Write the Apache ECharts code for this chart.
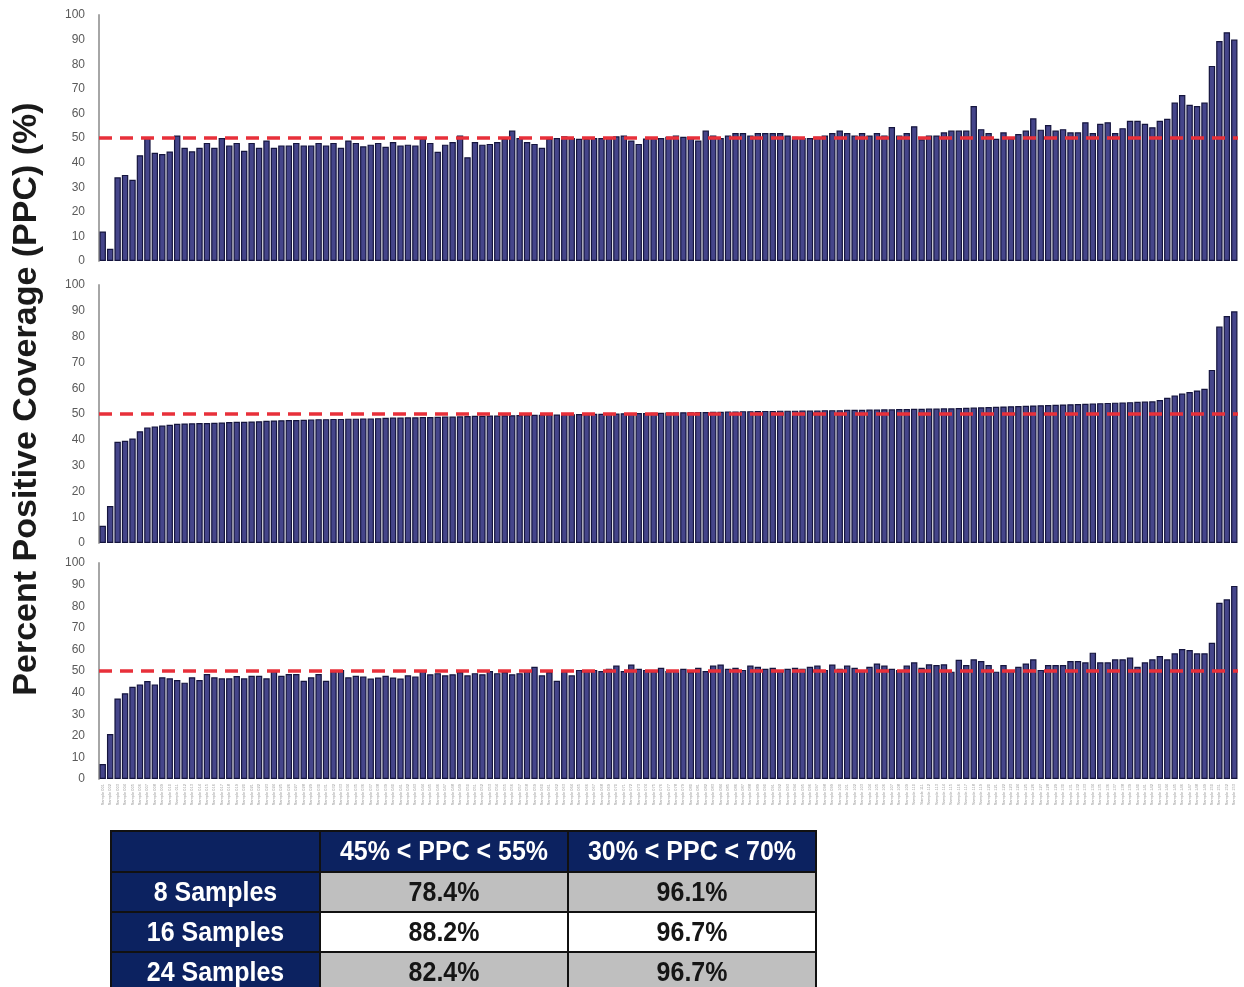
<!DOCTYPE html>
<html>
<head>
<meta charset="utf-8">
<title>Percent Positive Coverage</title>
<script src="https://cdn.jsdelivr.net/npm/echarts@6/dist/echarts.min.js"></script>
<style>
  html, body { margin: 0; padding: 0; background: #ffffff; }
  #chart { width: 1244px; height: 987px; }
</style>
</head>
<body>
<div id="chart"></div>
<script>
// Percent positive coverage per sample, pooled from 8, 16 and 24 samples
const ppc8 = [
  12, 5, 34, 35, 33, 43, 50, 44, 43.5, 44.5,
  51, 46, 44.6, 46, 48, 46, 50, 47, 48, 44.8,
  48, 46, 49, 46, 47, 47, 48, 47, 47, 48,
  47, 48, 46, 49, 48, 46.6, 47.3, 48, 46.4, 48.4,
  47, 47.3, 47, 49.7, 48, 44.4, 47.3, 48.4, 51, 42.2,
  48.4, 47.3, 47.6, 48.4, 49.7, 53, 50, 48.4, 47.6, 46,
  49.7, 50, 50.7, 50, 49.7, 49.7, 50, 50, 50, 50.7,
  51, 49, 47.6, 49.8, 50, 50, 50.5, 51, 50.5, 50,
  49, 53, 51, 50, 51, 52, 52, 51, 52, 52,
  52, 52, 51, 50.5, 50, 50, 50.5, 51, 52, 53,
  52, 51, 52, 51, 52, 51, 54.5, 51, 52, 54.8,
  49.5, 51, 51, 52.3, 53, 53, 53, 63, 53.6, 52,
  49.7, 52.3, 49.7, 51.6, 53, 58, 53.4, 55.3, 53, 53.6,
  52.3, 52.3, 56.4, 52, 55.8, 56.4, 52, 54, 57, 57,
  55.8, 54.4, 57, 57.8, 64.4, 67.5, 63.5, 63, 64.4, 79.3,
  89.4, 93, 90
];

const ppc16 = [
  6.7, 14.3, 39.2, 39.6, 40.5, 43.3, 44.8, 45.2, 45.5, 45.8,
  46.2, 46.3, 46.4, 46.5, 46.5, 46.6, 46.7, 46.9, 47.0, 47.0,
  47.1, 47.2, 47.4, 47.5, 47.6, 47.7, 47.7, 47.8, 47.9, 48.0,
  48.0, 48.1, 48.1, 48.2, 48.2, 48.3, 48.3, 48.4, 48.5, 48.6,
  48.6, 48.7, 48.7, 48.8, 48.8, 48.9, 49.0, 49.0, 49.1, 49.2,
  49.3, 49.3, 49.4, 49.4, 49.5, 49.5, 49.6, 49.6, 49.7, 49.7,
  49.8, 49.8, 49.9, 49.9, 50.0, 50.0, 50.1, 50.1, 50.2, 50.2,
  50.3, 50.3, 50.4, 50.4, 50.5, 50.5, 50.6, 50.6, 50.7, 50.7,
  50.8, 50.8, 50.9, 50.9, 51.0, 51.0, 51.1, 51.1, 51.2, 51.2,
  51.2, 51.3, 51.3, 51.3, 51.4, 51.4, 51.4, 51.5, 51.5, 51.5,
  51.6, 51.6, 51.6, 51.7, 51.7, 51.8, 51.8, 51.9, 51.9, 52.0,
  52.0, 52.1, 52.1, 52.2, 52.2, 52.3, 52.4, 52.5, 52.6, 52.7,
  52.8, 52.9, 53.0, 53.1, 53.2, 53.3, 53.4, 53.5, 53.6, 53.7,
  53.8, 53.9, 54.0, 54.1, 54.2, 54.3, 54.4, 54.5, 54.6, 54.7,
  54.8, 54.9, 55.4, 56.3, 57.2, 57.9, 58.5, 59.1, 59.8, 67.1,
  83.9, 88.0, 89.8
];

const ppc24 = [
  6.9, 20.8, 37.3, 39.7, 42.7, 43.8, 45.4, 43.8, 47.1, 46.6,
  45.8, 44.6, 47.1, 45.8, 48.6, 47.1, 46.6, 46.6, 47.7, 46.6,
  47.8, 47.8, 46.6, 50, 47.8, 48.6, 48.6, 45.5, 47.1, 48.6,
  45.5, 50, 50.5, 47.1, 47.8, 47.5, 46.5, 47.0, 47.8, 47.0,
  46.5, 48.0, 47.5, 50.5, 48.5, 49.0, 48.0, 48.5, 49.5, 48.0,
  49.0, 48.5, 50.0, 49.0, 49.5, 48.5, 49.0, 50.0, 52.0, 48.0,
  49.5, 45.5, 50.0, 48.0, 50.5, 50.0, 50.5, 50.0, 51.0, 52.5,
  50.0, 53.0, 51.0, 50.5, 50.0, 51.5, 50.0, 50.5, 51.0, 49.5,
  51.5, 50.0, 52.5, 53.0, 51.0, 51.5, 50.5, 52.5, 52.0, 51.0,
  51.5, 50.0, 51.0, 51.5, 51.0, 52.0, 52.5, 50.5, 53.0, 51.0,
  52.5, 51.5, 50.5, 52.0, 53.5, 52.5, 51.0, 50.5, 52.5, 54.0,
  51.5, 53.1, 52.8, 53.1, 49.7, 55.2, 52.8, 55.4, 54.6, 52.8,
  49.7, 52.8, 50.5, 52, 53.5, 55.4, 50.5, 52.8, 52.8, 52.8,
  54.6, 54.6, 54, 58.5, 54, 54, 55.4, 55.4, 56.2, 52,
  54, 55.4, 56.9, 55.4, 58.2, 60.2, 59.7, 58.2, 58.2, 63.1,
  81.6, 83.2, 89.4
];

// Sample identifiers along the shared category axis
const categories = ppc8.map((_, i) => 'Sample ' + String(i + 1).padStart(3, '0'));

// Expected coverage reference
const targetPPC = 50;

// Summary table: share of samples within each PPC window
const tableColumns = ['', '45% < PPC < 55%', '30% < PPC < 70%'];
const tableRowLabels = ['8 Samples', '16 Samples', '24 Samples'];
const tableNarrowWindow = ['78.4%', '88.2%', '82.4%'];
const tableWideWindow = ['96.1%', '96.7%', '96.7%'];

const yTitle = 'Percent Positive Coverage (PPC) (%)';

const chart = echarts.init(document.getElementById('chart'), null, { renderer: 'canvas' });

const panels = [
  { data: ppc8,  top: 15,  height: 246 },
  { data: ppc16, top: 285, height: 258 },
  { data: ppc24, top: 563, height: 216 }
];

const NAVY = '#0c2260';
const tableFont = 'bold 26px "Liberation Sans", Arial, sans-serif';

// Table drawn with graphic elements
function buildTable() {
  const colX = [111, 320, 568, 816];
  const rowY = [831, 872, 912, 952, 992];
  const els = [];
  const rows = [tableColumns].concat(tableRowLabels.map((lab, r) => [lab, tableNarrowWindow[r], tableWideWindow[r]]));
  rows.forEach((row, r) => {
    row.forEach((txt, c) => {
      const x0 = colX[c], x1 = colX[c + 1], y0 = rowY[r], y1 = rowY[r + 1];
      const header = r === 0 || c === 0;
      const fillCol = header ? NAVY : (r % 2 === 1 ? '#bfbfbf' : '#ffffff');
      els.push({
        type: 'rect',
        shape: { x: x0, y: y0, width: x1 - x0, height: y1 - y0 },
        style: { fill: fillCol, stroke: '#111111', lineWidth: 2 },
        silent: true
      });
      if (txt) {
        els.push({
          type: 'text',
          x: (x0 + x1) / 2,
          y: (y0 + y1) / 2 + 1,
          scaleX: 0.96,
          scaleY: 1.06,
          style: {
            text: txt,
            font: tableFont,
            fill: header ? '#ffffff' : '#151515',
            align: 'center',
            verticalAlign: 'middle'
          },
          silent: true
        });
      }
    });
  });
  return els;
}

const option = {
  animation: false,
  backgroundColor: '#ffffff',
  grid: panels.map(p => ({ left: 99, width: 1139, top: p.top, height: p.height })),
  xAxis: panels.map((p, i) => ({
    type: 'category',
    gridIndex: i,
    data: categories,
    axisLine: { show: false },
    axisTick: { show: false },
    axisLabel: i === 2 ? {
      show: true,
      interval: 0,
      rotate: 90,
      fontSize: 4,
      color: '#9a9a9a',
      margin: 5,
      fontFamily: 'Liberation Sans'
    } : { show: false }
  })),
  yAxis: panels.map((p, i) => ({
    type: 'value',
    gridIndex: i,
    min: 0,
    max: 100,
    interval: 10,
    axisLine: { show: true, lineStyle: { color: '#a6a6a6', width: 2 } },
    axisTick: { show: false },
    splitLine: { show: false },
    axisLabel: { color: '#5a5a5a', fontSize: 12, margin: 14, fontFamily: 'Liberation Sans' }
  })),
  series: panels.map((p, i) => ({
    type: 'bar',
    xAxisIndex: i,
    yAxisIndex: i,
    data: p.data,
    barCategoryGap: '14%',
    itemStyle: { color: '#45458a', borderColor: '#15153e', borderWidth: 1.2 },
    markLine: {
      silent: true,
      symbol: ['none', 'none'],
      label: { show: false },
      lineStyle: { color: '#e8303a', type: [13, 8], width: 3.5, opacity: 1 },
      data: [{ yAxis: targetPPC }]
    }
  })),
  graphic: [
    {
      type: 'text',
      x: 27,
      y: 399,
      rotation: Math.PI / 2,
      style: {
        text: yTitle,
        font: 'bold 34px "Liberation Sans", Arial, sans-serif',
        fill: '#1a1a1a',
        align: 'center',
        verticalAlign: 'middle'
      },
      silent: true
    }
  ].concat(buildTable())
};

chart.setOption(option);
</script>
</body>
</html>
